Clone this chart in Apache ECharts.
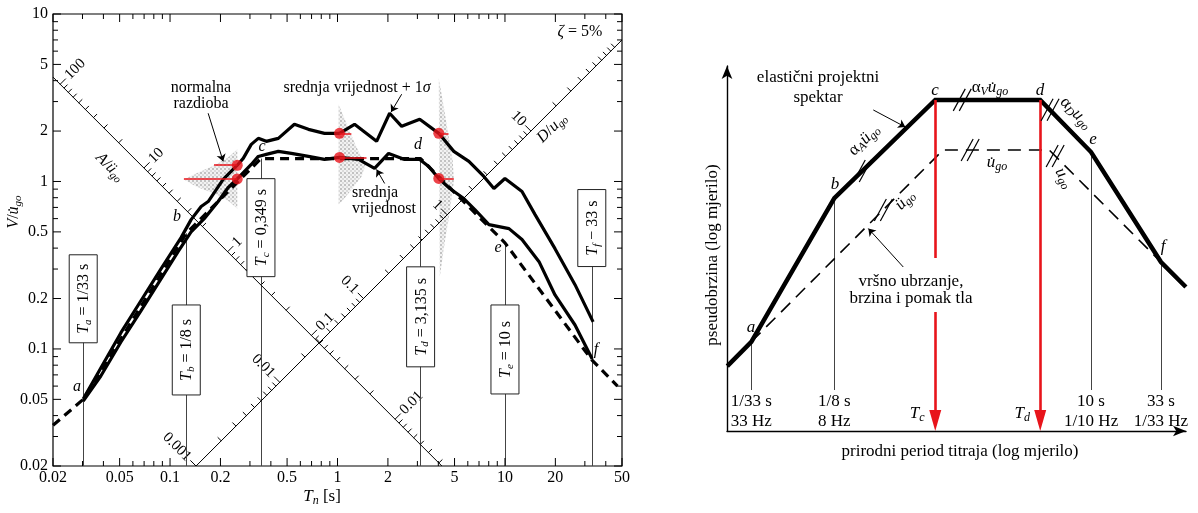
<!DOCTYPE html>
<html><head><meta charset="utf-8">
<script src="https://cdn.jsdelivr.net/npm/echarts@6.0.0/dist/echarts.min.js"></script>
<style>html,body{margin:0;padding:0;background:#fff;}#main{width:1198px;height:513px;}</style>
</head><body><div id="main"></div>
<script>
const FF = "'Liberation Serif','DejaVu Serif',serif";

// ================= LEFT PANEL DATA (T_n [s] , V/u̇go) =================
const xTickLabels = [0.02, 0.05, 0.1, 0.2, 0.5, 1, 2, 5, 10, 20, 50];
const yTickLabels = [0.02, 0.05, 0.1, 0.2, 0.5, 1, 2, 5, 10];

const meanPlusSigma = [
  [0.0303,0.0502],[0.0386,0.0769],[0.0509,0.125],[0.067,0.194],[0.0883,0.301],[0.1164,0.462],
  [0.1336,0.592],[0.1534,0.709],[0.169,0.759],[0.2076,1.028],[0.252,1.25],[0.2735,1.373],
  [0.3055,1.665],[0.3365,1.809],[0.3757,1.736],[0.4434,1.809],[0.5527,2.194],[0.6703,2.048],
  [0.836,1.938],[1.028,1.938],[1.264,2.194],[1.712,1.736],[2.048,2.555],[2.417,2.135],
  [3.097,2.35],[4.025,1.938],[4.95,1.513],[6.09,1.317],[7.48,1.071],[8.59,0.908],[10.0,1.042],
  [12.64,0.871],[15.13,0.634],[19.9,0.397],[26.2,0.242],[33.6,0.145]
];
const meanCurve = [
  [0.0303,0.0489],[0.0386,0.0689],[0.0509,0.110],[0.067,0.169],[0.0883,0.262],[0.1117,0.381],
  [0.1336,0.50],[0.160,0.60],[0.1938,0.759],[0.2224,0.921],[0.252,1.035],[0.3055,1.264],
  [0.3365,1.411],[0.3757,1.451],[0.4434,1.512],[0.530,1.471],[0.6703,1.411],[0.836,1.354],
  [1.028,1.392],[1.336,1.354],[1.665,1.196],[2.02,1.471],[2.518,1.354],[3.097,1.354],
  [3.507,1.23],[4.025,1.042],[4.685,0.908],[5.68,0.791],[6.61,0.68],[8.02,0.553],[10.57,0.523],
  [12.64,0.45],[15.98,0.332],[19.9,0.21],[26.2,0.139],[33.2,0.087]
];
const idealPeriods = [0.02, 1/33, 1/8, 0.349, 3.135, 10, 33, 47];
const idealValues  = [0.035, 0.05, 0.49, 1.37, 1.37, 0.43, 0.086, 0.06];

const markPeriods = [1/33, 1/8, 0.349, 3.135, 10, 33];
const markLabels = ['{i|T}{s|a} = 1/33 s','{i|T}{s|b} = 1/8 s','{i|T}{s|c} = 0,349 s',
                    '{i|T}{s|d} = 3,135 s','{i|T}{s|e} = 10 s','{i|T}{s|f} − 33 s'];

const dotPeriods = [0.252, 1.028, 4.025];
const dotUpper   = [1.25, 1.938, 1.938];
const dotLower   = [1.035, 1.392, 1.042];
const redUpperEnd = [0.183, 1.21, 4.6];
const redLowerEnd = [0.121, 1.49, 4.95];

const shadeBells = [
  [[0.252,1.554],[0.2256,1.411],[0.1886,1.264],[0.1431,1.117],[0.1213,1.028],[0.1431,0.933],[0.1886,0.836],[0.2256,0.759],[0.252,0.689]],
  [[1.014,2.891],[1.086,2.449],[1.18,1.992],[1.318,1.554],[1.471,1.264],[1.392,1.071],[1.213,0.896],[1.086,0.78],[1.014,0.728]],
  [[4.025,4.139],[4.254,3.013],[4.557,1.992],[4.883,1.318],[4.95,1.0],[4.685,0.661],[4.372,0.437],[4.081,0.27]]
];

// tripartite diagonal scales
const diagALine = [[0.02,4.2],[4.2,0.02]];
const diagDLine = [[0.143,0.02],[50,7]];
const diagALabels = [100, 10, 1, 0.1, 0.01];
const diagDLabels = [0.001, 0.01, 0.1, 1, 10];
const A_VT = 0.084, A_K = 0.58;   // A-line: V*T = const, A/ügo = k*V/T
const D_VT = 0.14,  D_K = 0.35;   // D-line: V/T = const, D/ugo = k*V*T

// ================= RIGHT PANEL DATA (schematic, log-log) =================
const rPeriods  = [0.0201, 1/33, 1/8, 0.70, 4.2, 10, 33, 50.5];
const rSpectrum = [0.0251, 0.038, 0.441, 2.35, 2.35, 0.966, 0.148, 0.0967];
const rGroundPeriods = [1/33, 0.80, 4.9, 33];
const rGround        = [0.038, 1.0, 1.0, 0.148];
const rTickPeriods = [1/33, 1/8, 10, 33];
const rTickLabels = ['1/33 s\n33 Hz', '1/8 s\n8 Hz', '10 s\n1/10 Hz', '33 s\n1/33 Hz'];
const rTickTop = [0.038, 0.441, 0.966, 0.148];
const rArrowPeriods = [0.70, 4.2];
const rArrowTop = [2.35, 2.35];
const rArrowLabels = ['{i|T}{s|c}', '{i|T}{s|d}'];
const rSlashPoints = [[0.2013,0.70],[1.11,2.35],[4.97,1.986],[1.27,1.0],[0.2885,0.36],[5.42,0.904]];

// ----- axis extents -----
const L_X = [0.02, 50], L_Y = [0.02, 10];
const R_X = [0.02, 50.6], R_Y = [0.0083, 4.19];

// ----- helpers -----
function logTicks(min, max) {
  const out = [];
  for (let e = -4; e <= 3; e++) for (let m = 1; m <= 9; m++) {
    const v = +(m * Math.pow(10, e)).toPrecision(6);
    if (v >= min * 0.999 && v <= max * 1.001) out.push(v);
  }
  return out;
}
const isIn = (arr, v) => arr.some(a => Math.abs(a - v) / v < 1e-6);
const RICH = (fs) => ({
  i: {fontStyle:'italic', fontSize:fs, fontFamily:FF, lineHeight:fs+3},
  s: {fontStyle:'italic', fontSize:Math.round(fs*0.68), fontFamily:FF, verticalAlign:'bottom', lineHeight:fs-2},
  n: {fontSize:fs, fontFamily:FF, lineHeight:fs+3}
});
function tstyle(text, fs, extra) {
  return Object.assign({text, fontSize:fs, fontFamily:FF, fill:'#000', align:'center', verticalAlign:'middle',
    textAlign:'center', textVerticalAlign:'middle', rich:RICH(fs)}, extra || {});
}

// pattern for the halftone bells
const pc = document.createElement('canvas'); pc.width = 4; pc.height = 4;
(function(){ const g = pc.getContext('2d'); g.fillStyle = '#f2f2f2'; g.fillRect(0,0,4,4);
  g.fillStyle = '#c2c2c2'; g.fillRect(0,0,2,2); g.fillStyle='#dadada'; g.fillRect(2,2,2,2); })();
const PATTERN = {image: pc, repeat: 'repeat'};

const xTickVals = logTicks(L_X[0], L_X[1]);
const yTickVals = logTicks(L_Y[0], L_Y[1]);
const aTickVals = logTicks(0.003, 100);
const dTickVals = logTicks(0.001, 100);

const series = [];
const L = {xAxisIndex:0, yAxisIndex:0, coordinateSystem:'cartesian2d'};
const R = {xAxisIndex:1, yAxisIndex:1, coordinateSystem:'cartesian2d'};

// ---- shading bells
series.push(Object.assign({type:'custom', z:1, silent:true,
  data: shadeBells.map(b => b[0]),
  renderItem: (p, api) => ({type:'polygon', shape:{points: shadeBells[p.dataIndex].map(q => api.coord(q))},
     style:{fill: PATTERN, stroke:null}})
}, L));

// ---- diagonal lines
[diagALine, diagDLine].forEach(d => series.push(Object.assign({type:'line', data:d, symbol:'none', z:2, silent:true,
  lineStyle:{color:'#000', width:1}}, L)));

// ---- diagonal ticks (A)
series.push(Object.assign({type:'custom', z:2, silent:true,
  data: aTickVals.map(v => [1, 1]),
  renderItem: (p, api) => {
    const A = aTickVals[p.dataIndex];
    const V = Math.sqrt(A_VT * A / A_K), T = Math.sqrt(A_VT * A_K / A);
    if (T < L_X[0] || V < L_Y[0] || V > L_Y[1]) return null;
    const c = api.coord([T, V]); const major = isIn(diagALabels, A);
    const len = major ? 8 : 5, u = [Math.SQRT1_2, -Math.SQRT1_2];
    const ch = [{type:'line', shape:{x1:c[0], y1:c[1], x2:c[0]+len*u[0], y2:c[1]+len*u[1]}, style:{stroke:'#000', lineWidth:1}}];
    if (major) ch.push({type:'text', x:c[0]+(len+2)*u[0], y:c[1]+(len+2)*u[1], rotation:Math.PI/4,
      style: tstyle(String(A), 15, {align:'left', textAlign:'left'})});
    return {type:'group', children:ch};
  }
}, L));
// ---- diagonal ticks (D)
series.push(Object.assign({type:'custom', z:2, silent:true,
  data: dTickVals.map(v => [1, 1]),
  renderItem: (p, api) => {
    const D = dTickVals[p.dataIndex];
    const V = Math.sqrt(D_VT * D / D_K), T = Math.sqrt(D / (D_K * D_VT));
    if (T > L_X[1] || V < L_Y[0] * 0.97 || V > L_Y[1]) return null;
    const c = api.coord([T, V]); const major = isIn(diagDLabels, D);
    const len = major ? 8 : 5, u = [-Math.SQRT1_2, -Math.SQRT1_2];
    const ch = [];
    if (V >= L_Y[0]) ch.push({type:'line', shape:{x1:c[0], y1:c[1], x2:c[0]+len*u[0], y2:c[1]+len*u[1]}, style:{stroke:'#000', lineWidth:1}});
    if (major) ch.push({type:'text', x:c[0]+(len+2)*u[0], y:c[1]+(len+2)*u[1], rotation:-Math.PI/4,
      style: tstyle(String(D), 15, {align:'right', textAlign:'right'})});
    return {type:'group', children:ch};
  }
}, L));

// ---- frame ticks & labels (left panel)
series.push(Object.assign({type:'custom', z:3, silent:true,
  data: xTickVals.map(v => [v, 1]),
  renderItem: (p, api) => {
    const v = xTickVals[p.dataIndex], major = isIn(xTickLabels, v);
    const b = api.coord([v, L_Y[0]]), t = api.coord([v, L_Y[1]]), len = major ? 8 : 5;
    const ch = [
      {type:'line', shape:{x1:b[0], y1:b[1], x2:b[0], y2:b[1]-len}, style:{stroke:'#000', lineWidth:1}},
      {type:'line', shape:{x1:t[0], y1:t[1], x2:t[0], y2:t[1]+len}, style:{stroke:'#000', lineWidth:1}}];
    if (major) ch.push({type:'text', x:b[0], y:b[1]+12, style: tstyle(String(v), 16)});
    return {type:'group', children:ch};
  }
}, L));
series.push(Object.assign({type:'custom', z:3, silent:true,
  data: yTickVals.map(v => [1, v]),
  renderItem: (p, api) => {
    const v = yTickVals[p.dataIndex], major = isIn(yTickLabels, v);
    const l = api.coord([L_X[0], v]), r = api.coord([L_X[1], v]), len = major ? 8 : 5;
    const ch = [
      {type:'line', shape:{x1:l[0], y1:l[1], x2:l[0]+len, y2:l[1]}, style:{stroke:'#000', lineWidth:1}},
      {type:'line', shape:{x1:r[0], y1:r[1], x2:r[0]-len, y2:r[1]}, style:{stroke:'#000', lineWidth:1}}];
    if (major) ch.push({type:'text', x:l[0]-5, y:l[1], style: tstyle(String(v), 16, {align:'right', textAlign:'right'})});
    return {type:'group', children:ch};
  }
}, L));

// ---- marked periods: vertical lines + boxed labels
const markLineTop = [0.1993, 0.49, 1.37, 1.37, 0.43, 0.527];
const boxCenterV  = [0.1993, 0.0986, 0.530, 0.1555, 0.0993, 0.527];
const boxH = [88, 90, 98, 100, 89, 77];
series.push(Object.assign({type:'lines', z:2, silent:true,
  data: markPeriods.map((T, i) => ({coords: [[T, L_Y[0]], [T, markLineTop[i]]]})),
  lineStyle:{color:'#444', width:1, opacity:1}}, L));
series.push(Object.assign({type:'custom', z:4, silent:true,
  data: markPeriods.map((T, i) => [T, boxCenterV[i]]),
  renderItem: (p, api) => {
    const i = p.dataIndex, c = api.coord([api.value(0), api.value(1)]), w = 28, h = boxH[i];
    return {type:'group', children:[
      {type:'rect', shape:{x:c[0]-w/2, y:c[1]-h/2, width:w, height:h}, style:{fill:'#fff', stroke:'#222', lineWidth:1}},
      {type:'text', x:c[0]+1, y:c[1], rotation:Math.PI/2, style: tstyle(markLabels[i], 16)}
    ]};
  }
}, L));

// ---- curves
series.push(Object.assign({type:'line', name:'idealizirani', data: idealPeriods.map((t, i) => [t, idealValues[i]]),
  symbol:'none', z:5, lineStyle:{color:'#000', width:3.2, type:[9,6]}}, L));
series.push(Object.assign({type:'line', name:'srednja vrijednost', data: meanCurve,
  symbol:'none', z:6, lineStyle:{color:'#000', width:3.2}}, L));
series.push(Object.assign({type:'line', name:'srednja vrijednost + 1σ', data: meanPlusSigma,
  symbol:'none', z:6, lineStyle:{color:'#000', width:3.2}}, L));

// ---- red distribution markers
series.push(Object.assign({type:'lines', z:7, silent:true,
  data: dotPeriods.flatMap((T, i) => [
    {coords: [[T, dotUpper[i]], [redUpperEnd[i], dotUpper[i]]]},
    {coords: [[T, dotLower[i]], [redLowerEnd[i], dotLower[i]]]}]),
  lineStyle:{color:'#e8141b', width:1.6, opacity:1}}, L));
series.push(Object.assign({type:'scatter', z:8, symbolSize:11, itemStyle:{color:'#e8141b'},
  data: dotPeriods.flatMap((T, i) => [[T, dotUpper[i]], [T, dotLower[i]]])}, L));

// ---- left leader arrows
series.push(Object.assign({type:'lines', z:9, silent:true, symbol:['none','arrow'], symbolSize:7,
  data: [
    {coords: [[0.1689, 2.554], [0.2077, 1.318]]},
    {coords: [[2.417, 3.319], [2.09, 2.6]]},
    {coords: [[1.912, 0.973], [1.712, 1.18]]}
  ],
  lineStyle:{color:'#000', width:1, opacity:1}}, L));

// ================= RIGHT PANEL SERIES =================
series.push(Object.assign({type:'lines', z:2, silent:true,
  data: rTickPeriods.map((T, i) => ({coords: [[T, rTickTop[i]], [T, 0.0167]]})),
  lineStyle:{color:'#444', width:1, opacity:1}}, R));
series.push(Object.assign({type:'line', name:'vršno ubrzanje, brzina i pomak tla',
  data: rGroundPeriods.map((t, i) => [t, rGround[i]]), symbol:'none', z:4,
  lineStyle:{color:'#000', width:1.6, type:[13,8]}}, R));
series.push(Object.assign({type:'line', name:'elastični projektni spektar',
  data: rPeriods.map((t, i) => [t, rSpectrum[i]]), symbol:'none', z:5,
  lineStyle:{color:'#000', width:4.5, join:'miter'}}, R));
// red arrows (line segments, Tc interrupted by text)
series.push(Object.assign({type:'lines', z:6, silent:true,
  data: [
    {coords: [[rArrowPeriods[0], rArrowTop[0]], [rArrowPeriods[0], 0.1585]]},
    {coords: [[rArrowPeriods[0], 0.0631], [rArrowPeriods[0], 0.0105]]},
    {coords: [[rArrowPeriods[1], rArrowTop[1]], [rArrowPeriods[1], 0.0105]]}
  ],
  lineStyle:{color:'#e8141b', width:2.6, opacity:1}}, R));
series.push(Object.assign({type:'custom', z:6, silent:true,
  data: rArrowPeriods.map(T => [T, R_Y[0]]),
  renderItem: (p, api) => {
    const c = api.coord([api.value(0), R_Y[0]]);
    return {type:'group', children:[
      {type:'polygon', shape:{points:[[c[0], c[1]], [c[0]-6, c[1]-21], [c[0]+6, c[1]-21]]}, style:{fill:'#e8141b'}},
      {type:'text', x:c[0]-18, y:c[1]-17, style: tstyle(rArrowLabels[p.dataIndex], 17)}
    ]};
  }
}, R));
// period tick labels under the schematic
series.push(Object.assign({type:'custom', z:6, silent:true,
  data: rTickPeriods.map(T => [T, R_Y[0]]),
  renderItem: (p, api) => {
    const c = api.coord([api.value(0), R_Y[0]]);
    return {type:'text', x:c[0], y:c[1]-39, style: tstyle(rTickLabels[p.dataIndex], 17, {verticalAlign:'top', textVerticalAlign:'top', lineHeight:20})};
  }
}, R));
// "//" marks
series.push(Object.assign({type:'custom', z:7, silent:true,
  data: rSlashPoints,
  renderItem: (p, api) => {
    const c = api.coord([api.value(0), api.value(1)]);
    const mk = dx => ({type:'line', shape:{x1:c[0]+dx-6, y1:c[1]+11, x2:c[0]+dx+6, y2:c[1]-11}, style:{stroke:'#000', lineWidth:1.2}});
    return {type:'group', children:[mk(-3), mk(3)]};
  }
}, R));
// leader arrows right
series.push(Object.assign({type:'lines', z:8, silent:true, symbol:['none','arrow'], symbolSize:7,
  data: [
    {coords: [[0.243, 1.98], [0.42, 1.48]]},
    {coords: [[0.4055, 0.136], [0.2233, 0.262]]}
  ],
  lineStyle:{color:'#000', width:1, opacity:1}}, R));

// ================= FREE TEXT =================
function T(x, y, text, fs, extra, rot) {
  return {type:'text', x, y, z:100, rotation: rot || 0, style: tstyle(text, fs, extra)};
}
const graphic = [
  // left
  T(201, 96, 'normalna\nrazdioba', 16, {lineHeight:16}),
  T(357, 88, 'srednja vrijednost + 1{i|σ}', 16),
  T(352, 201, 'srednja\nvrijednost', 16, {align:'left', textAlign:'left', lineHeight:16}),
  T(580, 32, '{i|ζ} = 5%', 16),
  T(77, 387, '{i|a}', 16), T(177, 217, '{i|b}', 16), T(262, 147, '{i|c}', 16),
  T(418, 145, '{i|d}', 16), T(498, 248, '{i|e}', 16), T(596, 350, '{i|f}', 16),
  T(110, 167, '{i|A}/{i|ü}{s|go}', 16, null, -Math.PI/4),
  T(552, 128, '{i|D}/{i|u}{s|go}', 16, null, Math.PI/4),
  T(14, 212, '{i|V}/{i|u\u0307}{s|go}', 16, null, Math.PI/2),
  T(322, 497, '{i|T}{s|n} [s]', 17),
  // right
  T(818, 88, 'elastični projektni\nspektar', 17, {lineHeight:20}),
  T(990, 88, 'α{s|V}{i|u\u0307}{s|go}', 17),
  T(864, 140, 'α{s|A}{i|ü}{s|go}', 17, null, Math.PI/4),
  T(1076, 113, 'α{s|D}{i|u}{s|go}', 17, null, -Math.PI/4),
  T(997, 163, '{i|u\u0307}{s|go}', 17),
  T(905, 200, '{i|ü}{s|go}', 17, null, Math.PI/4),
  T(1064, 178, '{i|u}{s|go}', 17, null, -Math.PI/3),
  T(911, 290, 'vršno ubrzanje,\nbrzina i pomak tla', 17, {lineHeight:17}),
  T(751, 328, '{i|a}', 17), T(835, 185, '{i|b}', 17), T(935, 91, '{i|c}', 17),
  T(1040, 91, '{i|d}', 17), T(1093, 140, '{i|e}', 17), T(1163, 247, '{i|f}', 17),
  T(713, 255, 'pseudobrzina (log mjerilo)', 17, null, Math.PI/2),
  T(960, 452, 'prirodni period titraja (log mjerilo)', 17)
];

const noAx = {axisLine:{show:false}, axisTick:{show:false}, axisLabel:{show:false}, splitLine:{show:false}, minorTick:{show:false}, minorSplitLine:{show:false}};
const option = {
  animation: false,
  backgroundColor: '#fff',
  grid: [
    {left:53, top:14, width:569, height:452, show:true, borderColor:'#000', borderWidth:1.2, backgroundColor:'transparent'},
    {left:727, top:66, width:459, height:365}
  ],
  xAxis: [
    Object.assign({type:'log', logBase:10, gridIndex:0, min:L_X[0], max:L_X[1]}, noAx),
    Object.assign({type:'log', logBase:10, gridIndex:1, min:R_X[0], max:R_X[1]}, noAx,
      {axisLine:{show:true, onZero:false, symbol:['none','arrow'], symbolSize:[8,13], lineStyle:{color:'#000', width:1.4}}})
  ],
  yAxis: [
    Object.assign({type:'log', logBase:10, gridIndex:0, min:L_Y[0], max:L_Y[1]}, noAx),
    Object.assign({type:'log', logBase:10, gridIndex:1, min:R_Y[0], max:R_Y[1]}, noAx,
      {axisLine:{show:true, onZero:false, symbol:['none','arrow'], symbolSize:[8,13], lineStyle:{color:'#000', width:1.4}}})
  ],
  series,
  graphic
};
const chart = echarts.init(document.getElementById('main'), null, {renderer:'canvas'});
chart.setOption(option);
</script>
</body></html>
